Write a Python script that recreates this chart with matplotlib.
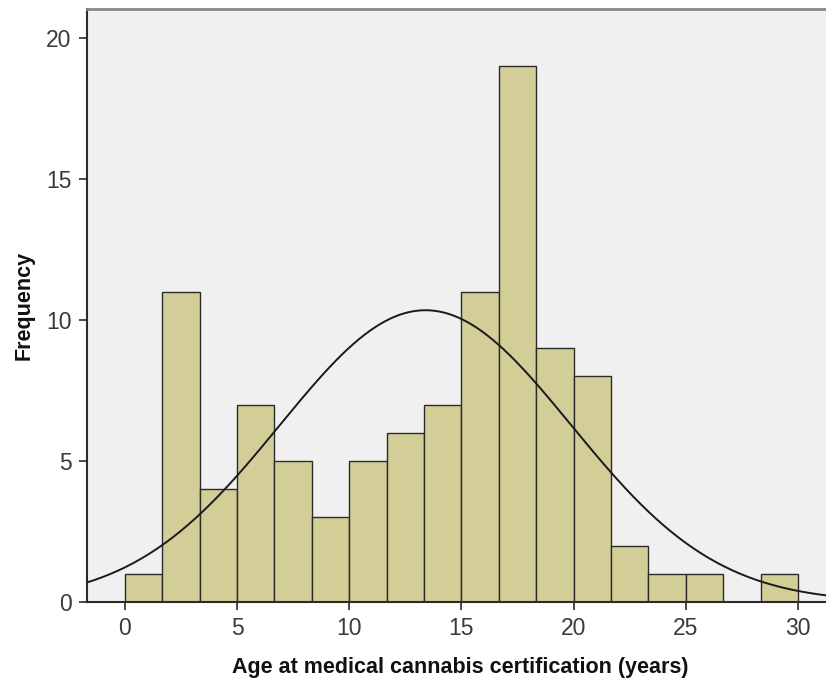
import numpy as np
import matplotlib
matplotlib.use("Agg")
import matplotlib.pyplot as plt

plt.rcParams['font.family'] = ['Liberation Sans', 'DejaVu Sans']

# Histogram bin edges (years) and counts
bin_edges = [0, 1.667, 3.333, 5, 6.667, 8.333, 10, 11.667, 13.333, 15,
             16.667, 18.333, 20, 21.667, 23.333, 25, 26.667, 28.333, 30]
counts = [1, 11, 4, 7, 5, 3, 5, 6, 7, 11, 19, 9, 8, 2, 1, 1, 0, 1]
# Fitted normal curve parameters
curve_mean = 13.4
curve_sd = 6.49
x_ticks = [0, 5, 10, 15, 20, 25, 30]
y_ticks = [0, 5, 10, 15, 20]

fig = plt.figure(figsize=(8.26, 6.79), dpi=100)
ax = fig.add_axes([0.1053, 0.1134, 0.8947 + 0.01, 0.8733])
ax.set_facecolor('#F0F0F0')

edges = np.array(bin_edges)
widths = np.diff(edges)
n = sum(counts)
for left, w, c in zip(edges[:-1], widths, counts):
    if c > 0:
        ax.bar(left, c, width=w, align='edge', color='#D3CE97',
               edgecolor='#2B2B2B', linewidth=1.0, zorder=2)

xs = np.linspace(-2, 32, 400)
bw = widths.mean()
ys = n * bw / (curve_sd * np.sqrt(2 * np.pi)) * np.exp(-0.5 * ((xs - curve_mean) / curve_sd) ** 2)
ax.plot(xs, ys, color='#1A1A1A', linewidth=1.4, zorder=3)

ax.set_xlim(-1.69, 31.62)
ax.set_ylim(0, 21.03)
ax.set_xticks(x_ticks)
ax.set_yticks(y_ticks)
ax.tick_params(axis='both', direction='out', length=6, width=1.2,
               color='#2B2B2B', labelsize=16.5, labelcolor='#3A3A3A', pad=5)

for s in ['left', 'bottom']:
    ax.spines[s].set_color('#2B2B2B')
    ax.spines[s].set_linewidth(1.5)
ax.spines['top'].set_color('#888888')
ax.spines['top'].set_linewidth(2)
ax.spines['right'].set_visible(False)

ax.set_xlabel('Age at medical cannabis certification (years)', fontsize=15.5,
              fontweight='bold', labelpad=12, color='#111111')
ax.set_ylabel('Frequency', fontsize=15.5, fontweight='bold', labelpad=8,
              color='#111111')

fig.savefig('out.png', dpi=100)
